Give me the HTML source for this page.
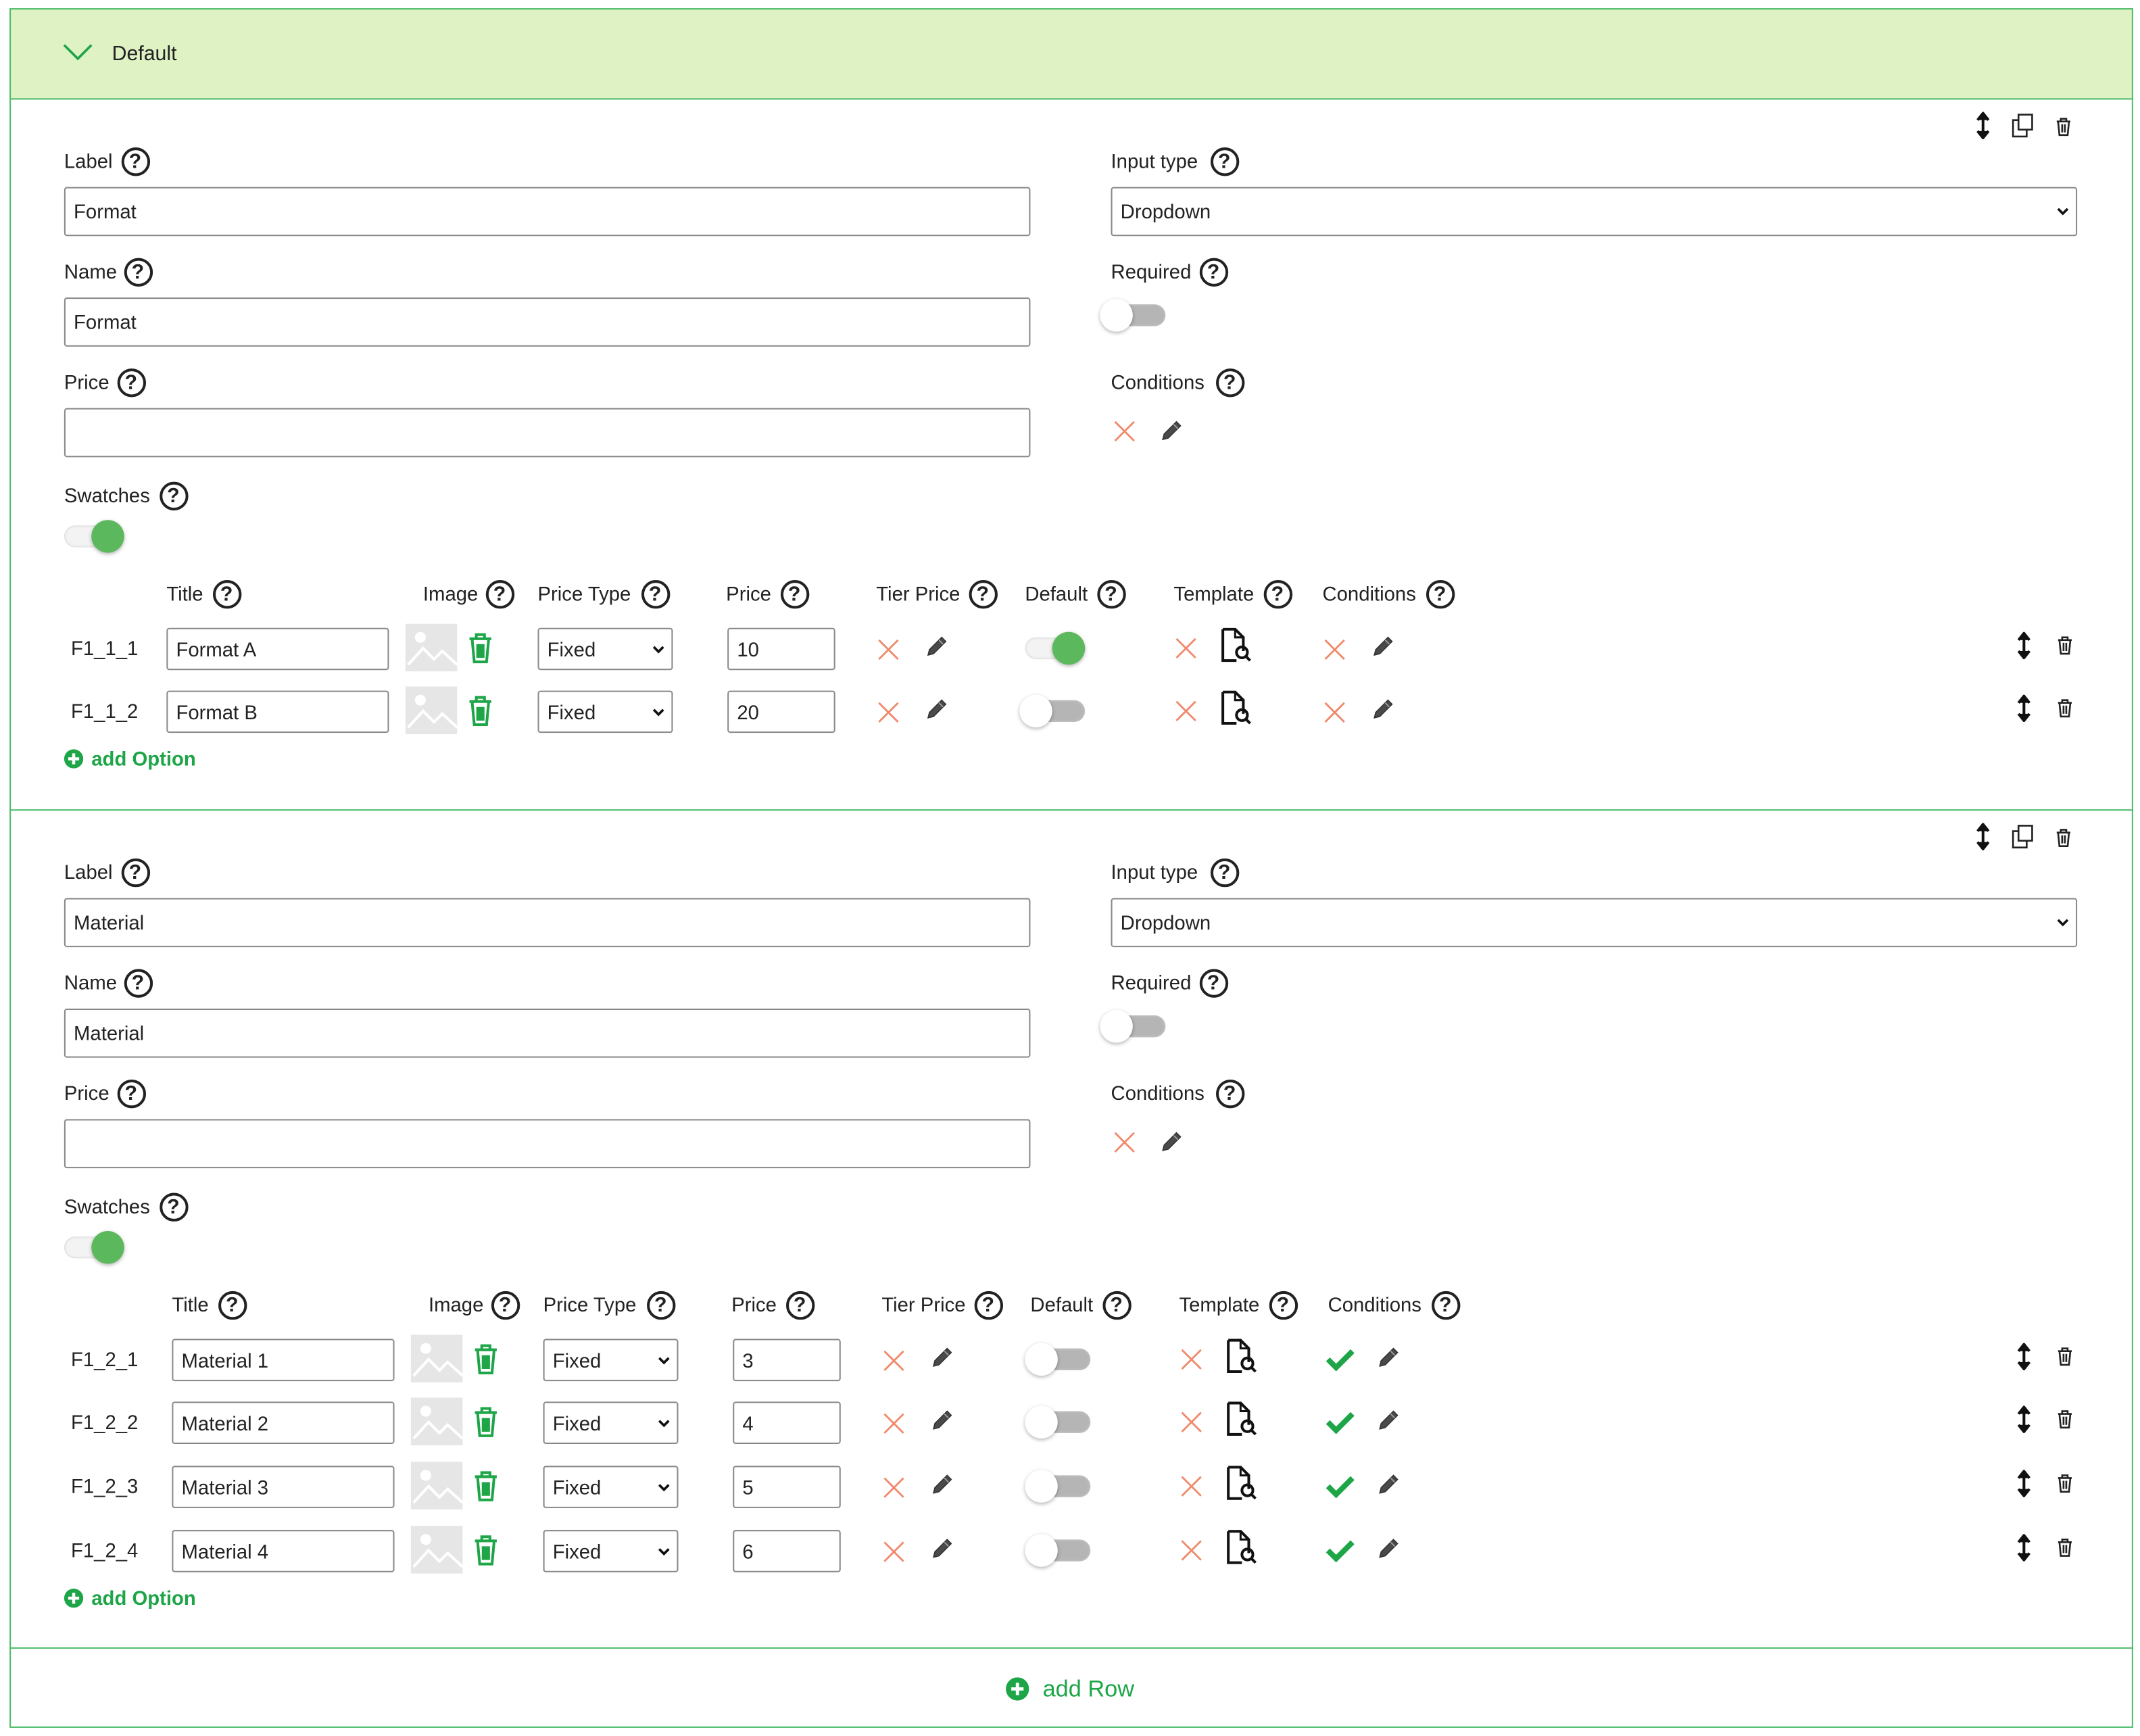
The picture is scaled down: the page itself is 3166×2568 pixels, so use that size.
<!DOCTYPE html>
<html><head><meta charset="utf-8"><style>
html,body{margin:0;padding:0;background:#fff;}
body{width:3166px;height:2568px;overflow:hidden;}
#w{position:absolute;left:0;top:0;width:1568px;height:1272px;transform:scale(2.0191,2.0189);transform-origin:0 0;font-family:"Liberation Sans",sans-serif;font-size:14.5px;color:#222;}
#w div,#w span{position:absolute;box-sizing:border-box;}
.t{white-space:nowrap;line-height:18px;}
.q{width:21px;height:21px;border:2.2px solid #222;border-radius:50%;font-weight:bold;font-size:15px;line-height:17px;text-align:center;}
.in{border:1px solid #888;border-radius:2px;background:#fff;}
</style></head><body><div id="w"></div>
<script>
var W=document.getElementById('w');var H='';
function d(s,st,c){H+='<div class="'+c+'" style="'+st+'">'+(s||'')+'</div>';}
function txt(x,y,s,ex){d(s,'left:'+x+'px;top:'+(y-8)+'px;'+(ex||''),'t');}
function q(x,y){d('?','left:'+(x-10.5)+'px;top:'+(y-10.5)+'px;','q');}
function lab(x,y,s,qx){txt(x,y,s);q(qx,y);}
function inp(x,y,w,h,s,sel){d('','left:'+x+'px;top:'+y+'px;width:'+w+'px;height:'+h+'px;','in');if(s)txt(x+7,y+h/2,s);if(sel)H+='<svg style="position:absolute;left:'+(x+w-15)+'px;top:'+(y+h/2-3)+'px" width="9" height="6"><path d="M1 1l3.5 3.5L8 1" fill="none" stroke="#111" stroke-width="1.8"/></svg>';}
function tog(x,y,on){d('','left:'+x+'px;top:'+(y-8)+'px;width:44px;height:16px;border-radius:8px;background:'+(on?'#f3f3f3':'#b5b5b5')+';box-shadow:inset 0 0 2px #ccc;','');
 d('','left:'+(on?x+20:x-4)+'px;top:'+(y-12)+'px;width:24px;height:24px;border-radius:50%;background:'+(on?'#5cb85c':'#fff')+';box-shadow:0 1px 3px rgba(0,0,0,.3);','');}
function xx(x,y){H+='<svg style="position:absolute;left:'+(x-8)+'px;top:'+(y-8)+'px" width="16" height="16"><path d="M1 1l14 14M15 1L1 15" stroke="#f08a6c" stroke-width="1.4"/></svg>';}
function pen(x,y){H+='<svg style="position:absolute;left:'+(x-9)+'px;top:'+(y-9)+'px" width="18" height="18"><path d="M3 16l1-4L13 3l3 3-9 9z" fill="#4a4a4a" stroke="#333" stroke-width="0.8"/><path d="M11 5l3 3" stroke="#aaa" stroke-width="0.8"/></svg>';}
function doc(x,y){H+='<svg style="position:absolute;left:'+(x-11)+'px;top:'+(y-13)+'px" width="24" height="26"><path d="M2 1h9l6 6v10M2 1v23h10" fill="none" stroke="#111" stroke-width="2"/><path d="M11 1v6h6" fill="none" stroke="#111" stroke-width="1.5"/><circle cx="16" cy="18" r="4" fill="none" stroke="#111" stroke-width="2"/><path d="M19 21l3 3" stroke="#111" stroke-width="2"/></svg>';}
function tr(x,y,c){H+='<svg style="position:absolute;left:'+(x-6)+'px;top:'+(y-7)+'px" width="12" height="14"><path d="M1 3h10M4 3V1h4v2M2 3l1 10h6l1-10M5 5v6M7 5v6" fill="none" stroke="'+(c||'#222')+'" stroke-width="1.3"/></svg>';}
function gtr(x,y){H+='<svg style="position:absolute;left:'+(x-10)+'px;top:'+(y-12)+'px" width="20" height="24"><path d="M2 5h16M7 5V2h6v3M4 6l1.5 16h9L16 6M8 9v10M10 9v10M12 9v10" fill="none" stroke="#1ea548" stroke-width="2"/></svg>';}
function arr(x,y){H+='<svg style="position:absolute;left:'+(x-5)+'px;top:'+(y-10)+'px" width="10" height="20"><path d="M5 2v16M1 6l4-5 4 5M1 14l4 5 4-5" fill="#111" stroke="#111" stroke-width="2"/></svg>';}
function cp(x,y){H+='<svg style="position:absolute;left:'+(x-9)+'px;top:'+(y-9)+'px" width="18" height="18"><rect x="6" y="1" width="10" height="11" fill="none" stroke="#222" stroke-width="1.3"/><path d="M6 5H2v12h10v-5" fill="none" stroke="#222" stroke-width="1.3"/></svg>';}
function img(x,y){H+='<svg style="position:absolute;left:'+x+'px;top:'+y+'px" width="38" height="35"><rect width="38" height="35" fill="#e6e6e6"/><circle cx="11" cy="10" r="4" fill="#fff"/><path d="M2 30l11-12 8 8 6-6 11 10" fill="none" stroke="#fff" stroke-width="2"/></svg>';}
function check(x,y){H+='<svg style="position:absolute;left:'+(x-11)+'px;top:'+(y-9)+'px" width="22" height="18"><path d="M2 9l6 6L20 3" fill="none" stroke="#1ea548" stroke-width="4"/></svg>';}
function addOpt(y){H+='<svg style="position:absolute;left:47px;top:'+(y-7)+'px" width="14" height="14"><circle cx="7" cy="7" r="7" fill="#1ea548"/><path d="M7 3v8M3 7h8" stroke="#fff" stroke-width="2.2"/></svg>';txt(67,y,'add Option','font-weight:bold;color:#1ea548;');}
d('','left:7px;top:6px;width:1556px;height:1260px;border:1px solid #4cbb6a;','');
d('','left:7px;top:6px;width:1556px;height:67px;background:#dff2c4;border:1px solid #4cbb6a;','');
H+='<svg style="position:absolute;left:46px;top:31px" width="22" height="14"><path d="M1 2l10 10L21 2" fill="none" stroke="#1ea548" stroke-width="1.8"/></svg>';
txt(82,39,'Default','font-size:15px');
d('','left:7px;top:593px;width:1556px;height:1px;background:#4cbb6a;','');
d('','left:7px;top:1207px;width:1556px;height:1px;background:#4cbb6a;','');
H+='<svg style="position:absolute;left:737px;top:1229px" width="17" height="17"><circle cx="8.5" cy="8.5" r="8.5" fill="#1ea548"/><path d="M8.5 4v9M4 8.5h9" stroke="#fff" stroke-width="2.4"/></svg>';
txt(764,1237,'add Row','font-size:17px;color:#1ea548;');
function section(o,names,rows,rx,conds){
 arr(1453,92+o);cp(1482,92+o);tr(1512,93+o);
 lab(47,118+o,'Label',99);inp(47,137+o,708,36,names);
 lab(814,118+o,'Input type',897);inp(814,137+o,708,36,'Dropdown',1);
 lab(47,199+o,'Name',101);inp(47,218+o,708,36,names);
 lab(814,199+o,'Required',889);tog(810,231+o,false);
 lab(47,280+o,'Price',96);inp(47,299+o,708,36,'');
 lab(814,280+o,'Conditions',901);xx(824,316+o);pen(858,315+o);
 lab(47,363+o,'Swatches',127);tog(47,393+o,true);
 var hy=435+o,s=rx;
 lab(122+s,hy,'Title',166+s);lab(310+s,hy,'Image',366+s);lab(394+s,hy,'Price Type',480+s);lab(532+s,hy,'Price',582+s);
 lab(642+s,hy,'Tier Price',720+s);lab(751+s,hy,'Default',814+s);lab(860+s,hy,'Template',936+s);lab(969+s,hy,'Conditions',1055+s);
 rows.forEach(function(r,i){var y=r.y;
  txt(52,y,r.id);inp(122+s,y-15,163,31,r.t);img(297+s,y-18);gtr(352+s,y);
  inp(394+s,y-15,99,31,'Fixed',1);inp(533+s,y-15,79,31,r.p);
  xx(651+s,y+1);pen(686+s,y-2);tog(751+s,y,r.on);xx(869+s,y);doc(905+s,y-2);
  if(conds)check(982,y);else xx(978+s,y+1);pen(1013+s,y-2);arr(1483,y-2);tr(1513,y-2);
 });
 addOpt(rows[rows.length-1].y+35);
}
section(0,'Format',[{y:475,id:'F1_1_1',t:'Format A',p:'10',on:true},{y:521,id:'F1_1_2',t:'Format B',p:'20',on:false}],0,false);
section(521,'Material',[{y:996,id:'F1_2_1',t:'Material 1',p:'3'},{y:1042,id:'F1_2_2',t:'Material 2',p:'4'},{y:1089,id:'F1_2_3',t:'Material 3',p:'5'},{y:1136,id:'F1_2_4',t:'Material 4',p:'6'}],4,true);
W.innerHTML=H;
</script></body></html>
